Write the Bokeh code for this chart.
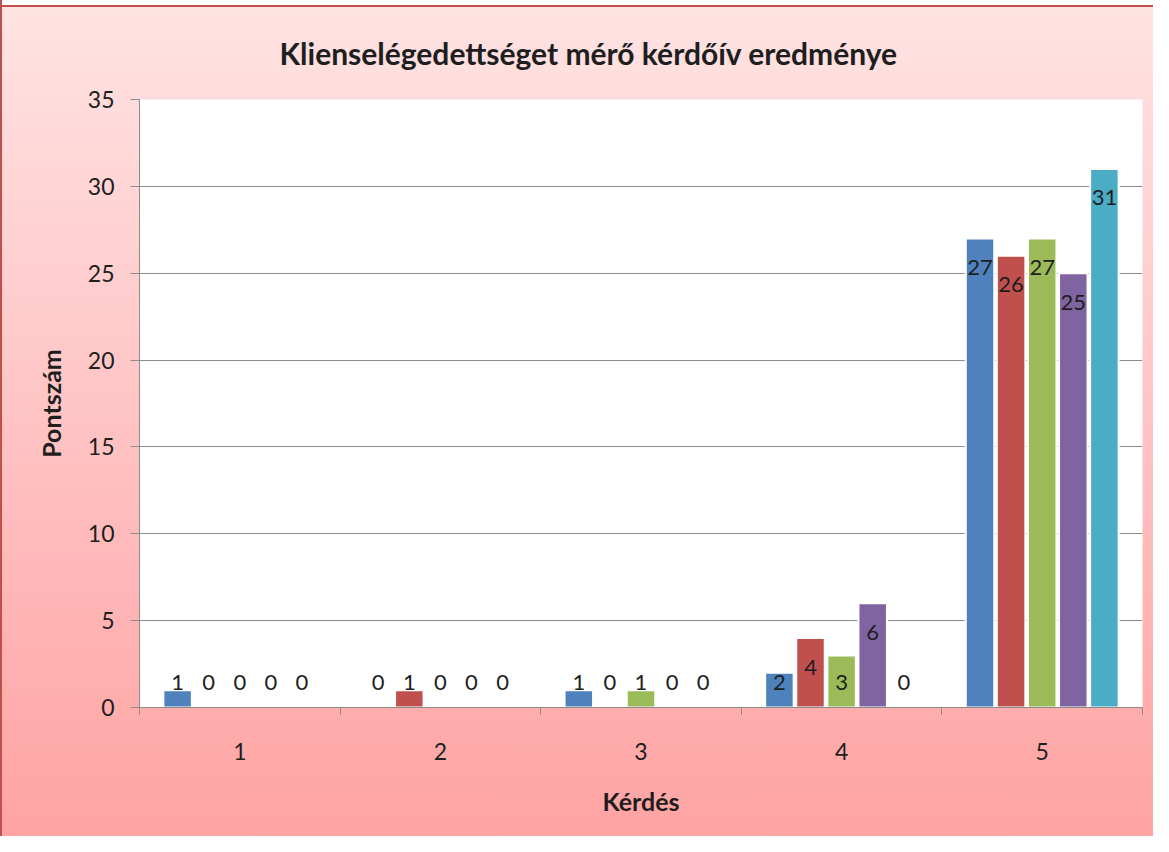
from bokeh.plotting import figure
from bokeh.models import ColumnDataSource, FixedTicker, Range1d
from bokeh.transform import dodge
from bokeh.core.properties import value
from bokeh.embed import file_html
from bokeh.resources import INLINE

# ---- data ----
categories = [1, 2, 3, 4, 5]
series_names = ["1. sorozat", "2. sorozat", "3. sorozat", "4. sorozat", "5. sorozat"]
series_1 = [1, 0, 1, 2, 27]
series_2 = [0, 1, 0, 4, 26]
series_3 = [0, 0, 1, 3, 27]
series_4 = [0, 0, 0, 6, 25]
series_5 = [0, 0, 0, 0, 31]
y_ticks = [0, 5, 10, 15, 20, 25, 30, 35]
title_text = "Klienselégedettséget mérő kérdőív eredménye"
x_title = "Kérdés"
y_title = "Pontszám"

# ---- style ----
colors = ["#4F81BD", "#C0504D", "#9BBB59", "#8064A2", "#4BACC6"]
offsets = [-0.31, -0.155, 0.0, 0.155, 0.31]
bar_w = 0.142
FONT = "Lato"
TXT = "#1e1e1e"
GRID = "#8C8C8C"
label_drop = 1.67   # data units below bar top
label_floor = 1.44  # minimum label centre height

p = figure(width=1153, height=836, output_backend="svg", toolbar_location=None,
           x_range=Range1d(0.5, 5.5), y_range=Range1d(0, 35),
           min_border_left=139, min_border_right=11,
           min_border_top=99, min_border_bottom=129)

p.border_fill_color = None
p.background_fill_color = "white"
p.outline_line_color = None
p.styles = {
    "background": ("linear-gradient(to right, #C0504D 0px, #C0504D 2px, rgba(0,0,0,0) 2px), "
                   "linear-gradient(to bottom, #ffffff 0px, #ffffff 5px, #C0504D 5px, #C0504D 7px, "
                   "#FFE3E3 7px, #FFCACA 40%, #FFA3A3 100%)"),
}

all_series = [series_1, series_2, series_3, series_4, series_5]
for vals, name, col, off in zip(all_series, series_names, colors, offsets):
    src = ColumnDataSource(dict(
        x=categories,
        top=vals,
        ly=[max(v - label_drop, label_floor) for v in vals],
        lbl=[str(v) for v in vals],
    ))
    p.vbar(x=dodge("x", off), top="top", bottom=0, width=bar_w, source=src,
           fill_color=col, line_color="white", line_width=2, name=name)
    p.text(x=dodge("x", off), y="ly", text="lbl", source=src,
           text_align="center", text_baseline="middle",
           text_font=value(FONT), text_font_size="22px", text_color=TXT)

# title
p.title.text = title_text
p.title.align = "left"
p.title.offset = 140
p.title.text_font = FONT
p.title.text_font_size = "30px"
p.title.text_font_style = "bold"
p.title.text_color = TXT
p.title.standoff = 58

# x axis
p.xaxis.ticker = FixedTicker(ticks=categories,
                             minor_ticks=[c - 0.5 for c in categories] + [categories[-1] + 0.5])
p.xaxis.major_tick_out = 0
p.xaxis.major_tick_in = 0
p.xaxis.minor_tick_out = 7
p.xaxis.minor_tick_in = 0
p.xaxis.minor_tick_line_color = GRID
p.xaxis.axis_line_color = GRID
p.xaxis.major_label_standoff = 28
p.xaxis.axis_label = x_title
p.xaxis.axis_label_standoff = 23

# y axis
p.yaxis.ticker = FixedTicker(ticks=y_ticks)
p.yaxis.major_tick_out = 9
p.yaxis.major_tick_in = 0
p.yaxis.minor_tick_line_color = None
p.yaxis.major_tick_line_color = GRID
p.yaxis.axis_line_color = GRID
p.yaxis.major_label_standoff = 16
p.yaxis.axis_label = y_title
p.yaxis.axis_label_standoff = 19

for ax in (p.xaxis, p.yaxis):
    ax.major_label_text_font = FONT
    ax.major_label_text_font_size = "23px"
    ax.major_label_text_color = TXT
    ax.axis_label_text_font = FONT
    ax.axis_label_text_font_size = "25px"
    ax.axis_label_text_font_style = "bold"
    ax.axis_label_text_color = TXT

p.xgrid.grid_line_color = None
p.ygrid.grid_line_color = GRID
p.ygrid.grid_line_width = 1

open("out.html", "w").write(file_html(p, INLINE))
